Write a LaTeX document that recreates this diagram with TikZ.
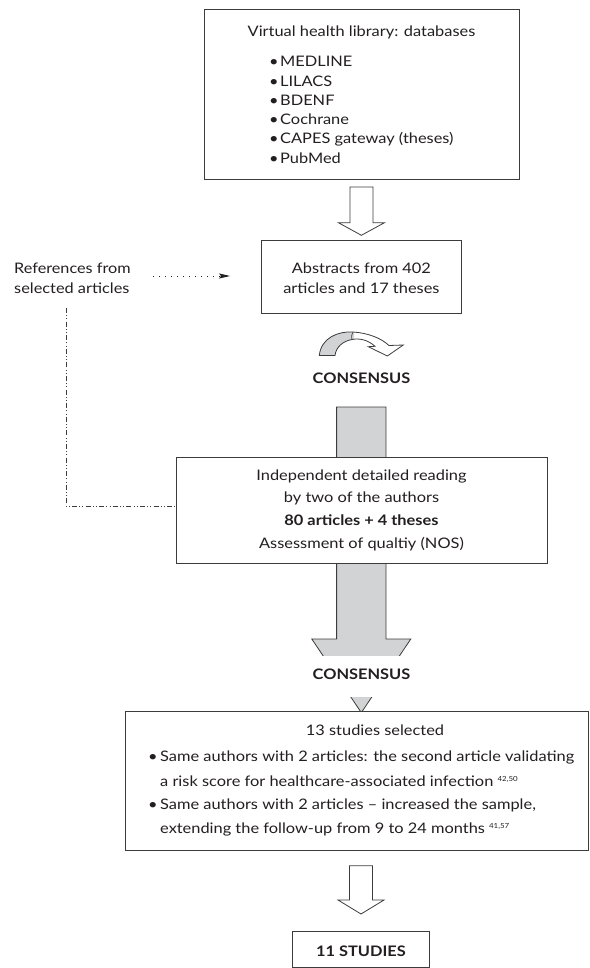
\documentclass[tikz,border=0pt]{standalone}
\usepackage{graphicx}
\usepackage{fontspec}
\setmainfont[FakeStretch=1.13]{Lato}
\usetikzlibrary{arrows.meta,calc}
\definecolor{ln}{HTML}{3C3C3C}
\definecolor{gf}{HTML}{D1D3D4}
\definecolor{tx}{HTML}{231F20}
\newcommand\refsup[1]{\raisebox{4.5pt}{\fontsize{7}{7}\selectfont #1}}
\begin{document}
\begin{tikzpicture}[x=1pt,y=-1pt,
  box/.style={draw=ln, line width=0.9pt, fill=white, inner sep=0pt, outer sep=0pt},
  txt/.style={inner sep=0pt, text=tx, font=\fontsize{14.5}{19.32}\selectfont},
  hd/.style={inner sep=0pt, text=tx, font=\fontsize{14.5}{16}\selectfont\bfseries},
  blk/.style={draw=ln, line width=0.8pt, fill=white, line join=miter},
  gblk/.style={draw=ln, line width=0.8pt, fill=gf, line join=miter},
  dotarrow/.style={draw=tx, line width=0.9pt, dash pattern=on 1.2pt off 4.8pt, -{Stealth[length=11pt,width=5pt,inset=2pt]}},
  dashdotline/.style={draw=ln, line width=0.8pt, dash pattern=on 5pt off 2.2pt on 1pt off 2.2pt on 1pt off 2.2pt}
]
\useasboundingbox (0,0) rectangle (589,968);

% ---- box 1
\node[box, minimum width=315pt, minimum height=170pt] (box1) at (361.5,94.3) {};
\node[txt, anchor=base] (dbtitle) at (361.5,36.7) {Virtual health library: databases};
\node[txt, anchor=base west, align=left] (dblist) at (269,163.3)
  {\makebox[11pt][l]{•}MEDLINE\\\makebox[11pt][l]{•}LILACS\\\makebox[11pt][l]{•}BDENF\\\makebox[11pt][l]{•}Cochrane\\\makebox[11pt][l]{•}CAPES gateway (theses)\\\makebox[11pt][l]{•}PubMed};

% ---- box 2
\node[box, minimum width=199.3pt, minimum height=73pt] (box2) at (361.4,276.5) {};
\node[txt, anchor=base, align=center, font=\fontsize{14.5}{20}\selectfont] (abtxt) at (361.4,293) {Abstracts from 402\\articles and 17 theses};

% arrow 1 (hollow)
\draw[blk] ($(box1.south)+(-11.5,7.7)$) -- ++(23,0) -- ++(0,35.7) -- ++(11.5,0)
  -- ($(box2.north)+(0,-4.7)$) -- ++(-23,-12.6) -- ++(11.5,0) -- cycle;

% references
\node[txt, anchor=base west, align=left, font=\fontsize{14.5}{20}\selectfont] (reftxt) at (14,293)
  {\resizebox{116.5pt}{\height}{References from}\\\resizebox{115.3pt}{\height}{selected articles}};
\coordinate (dA) at (153,276);
\draw[dotarrow] (dA) -- ($(box2.west |- dA)+(-31.7,0)$);

% curved consensus arrow
\coordinate (cvfoot) at (319.3,355.5);
\begin{scope}
  \path[fill=white] (cvfoot) .. controls (321,338) and (338,331) .. (353,332)
     .. controls (368,333) and (381,338) .. (389,345.5) -- (403.3,345) -- (387.3,356) -- (368.3,346.7) -- (375,346.3)
     .. controls (368,340) and (360,338) .. (352,339.5) .. controls (343,341) and (336,347) .. (335,355.5) -- cycle;
  \clip (300,320) rectangle (354,360);
  \path[fill=gf] (cvfoot) .. controls (321,338) and (338,331) .. (353,332)
     .. controls (368,333) and (381,338) .. (389,345.5) -- (403.3,345) -- (387.3,356) -- (368.3,346.7) -- (375,346.3)
     .. controls (368,340) and (360,338) .. (352,339.5) .. controls (343,341) and (336,347) .. (335,355.5) -- cycle;
\end{scope}
\draw[draw=ln, line width=0.8pt, line join=miter] (cvfoot) .. controls (321,338) and (338,331) .. (353,332)
     .. controls (368,333) and (381,338) .. (389,345.5) -- (403.3,345) -- (387.3,356) -- (368.3,346.7) -- (375,346.3)
     .. controls (368,340) and (360,338) .. (352,339.5) .. controls (343,341) and (336,347) .. (335,355.5) -- cycle;
\draw[draw=ln, line width=0.6pt] (352,339.5) .. controls (351,336) and (352,334) .. (353,332);

\node[hd, anchor=base] (cons1) at (361.5,383) {CONSENSUS};

% ---- big grey arrow (drawn behind box 3)
\coordinate (gtop) at (361.3,407);
\node[box, minimum width=371pt, minimum height=106pt, draw=none, fill=none] (box3) at (361.5,510) {};
\draw[gblk] ($(gtop)+(-24.7,0)$) -- ++(49.4,0) -- ($(box3.south)+(24.5,76)$) -- ++(24.8,0)
  -- ($(box3.south)+(-0.2,149.6)$) -- ($(box3.south)+(-49.7,76)$) -- ++(24.8,0) -- cycle;
\node[box, minimum width=371pt, minimum height=106pt] (box3b) at (box3) {};
\node[txt, anchor=base, align=center, font=\fontsize{14.5}{22.7}\selectfont] (b3txt) at (361.5,548.1)
  {Independent detailed reading\\by two of the authors\\\textbf{80 articles + 4 theses}\\Assessment of qualtiy (NOS)};

% dash-dot connector
\coordinate (ddtop) at (66,308);
\coordinate (ddcorner) at (66,506);
\draw[dashdotline] (ddtop) -- (ddcorner) -- (ddcorner -| box3.west);

% mask + consensus 2
\fill[white] (295,655.7) rectangle (430,697);
\node[hd, anchor=base] (cons2) at (361.5,679) {CONSENSUS};

% ---- box 4
\node[box, minimum width=463pt, minimum height=138.3pt] (box4) at (356.5,780.85) {};
\node[txt, anchor=base] (b4head) at (375,735) {13 studies selected};
\node[txt, anchor=base west, align=left, font=\fontsize{14.5}{25}\selectfont] (b4i1) at (148,786)
  {\makebox[12pt][l]{•}Same authors with 2 articles: the second article validating\\\hspace*{12pt}a risk score for healthcare-associated infection \refsup{42,50}};
\node[txt, anchor=base west, align=left, font=\fontsize{14.5}{24}\selectfont] (b4i2) at (148,833)
  {\makebox[12pt][l]{•}Same authors with 2 articles – increased the sample,\\\hspace*{12pt}extending the follow-up from 9 to 24 months \refsup{41,57}};

% ---- box 5
\node[box, minimum width=136.6pt, minimum height=36pt] (box5) at (361,949) {};
\node[hd, anchor=base] (res) at (361,956.4) {11 STUDIES};

% arrow 3 (hollow)
\draw[blk] ($(box5.north)+(-11.5,-65.3)$) -- ++(23,0) -- ++(0,34.3) -- ++(11.5,0)
  -- ($(box5.north)+(0,-17)$) -- ++(-23,-14) -- ++(11.5,0) -- cycle;
\end{tikzpicture}
\end{document}
